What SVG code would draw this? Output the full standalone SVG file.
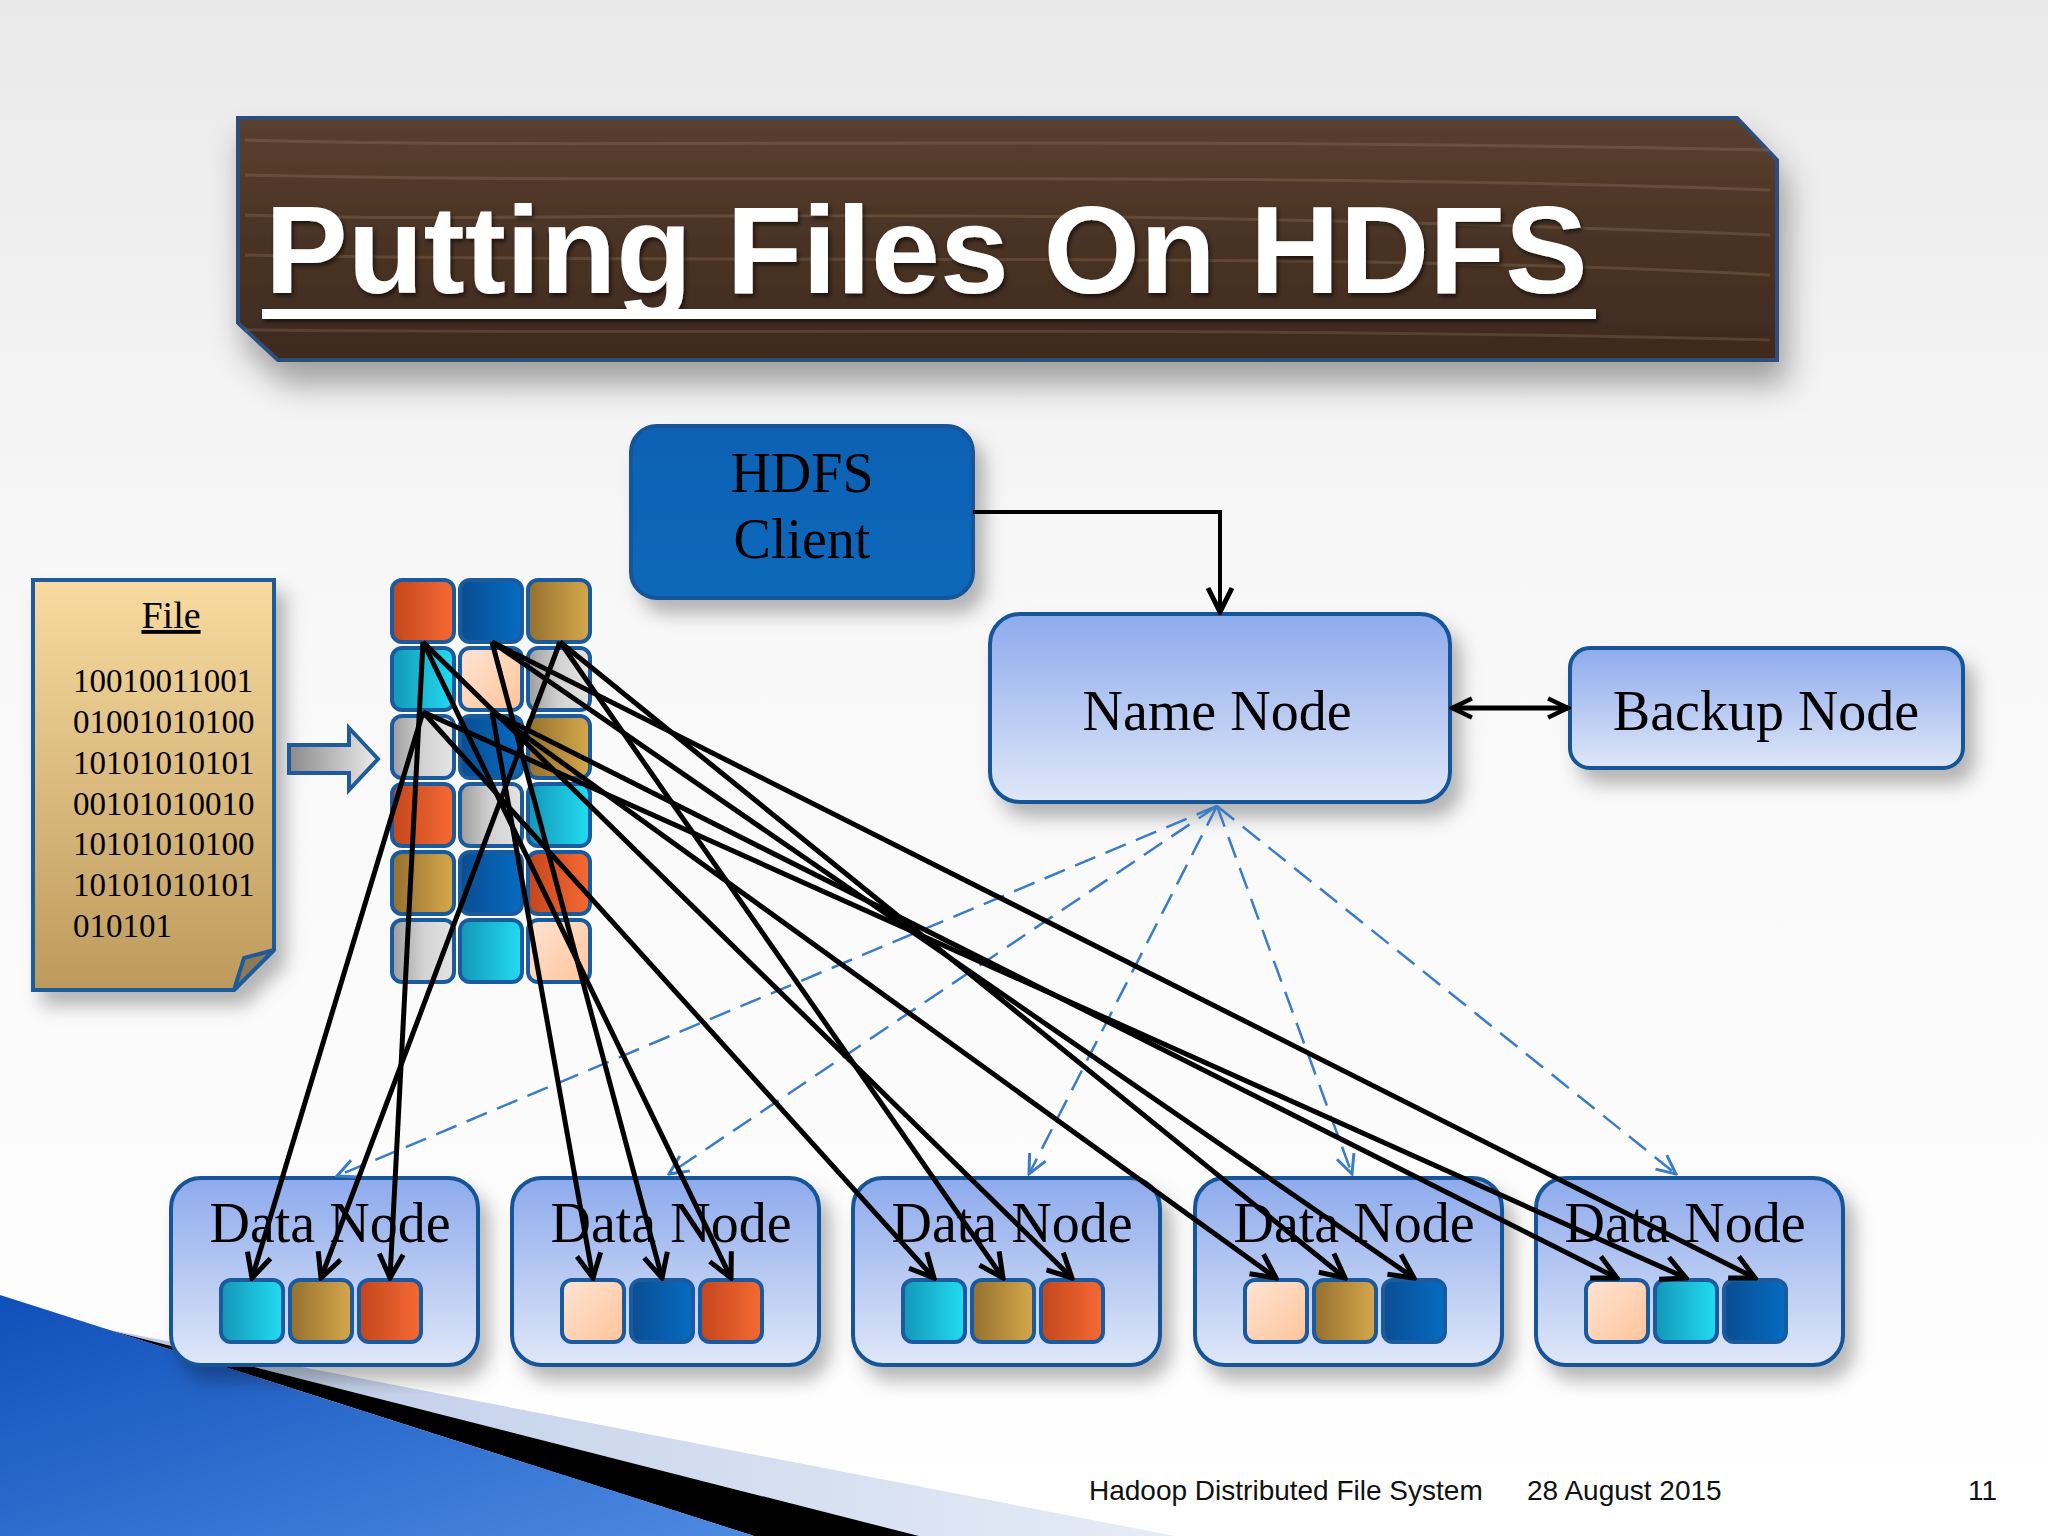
<svg xmlns="http://www.w3.org/2000/svg" width="2048" height="1536" viewBox="0 0 2048 1536">
<defs>
  <linearGradient id="bg" x1="0" y1="0" x2="0" y2="1">
    <stop offset="0" stop-color="#e9e9ea"/>
    <stop offset="0.35" stop-color="#f7f7f7"/>
    <stop offset="1" stop-color="#ffffff"/>
  </linearGradient>
  <linearGradient id="wood" x1="0" y1="0" x2="0" y2="1">
    <stop offset="0" stop-color="#5a4030"/>
    <stop offset="0.5" stop-color="#4a3325"/>
    <stop offset="1" stop-color="#3e2a1e"/>
  </linearGradient>
  <linearGradient id="fileG" x1="0" y1="0" x2="0" y2="1">
    <stop offset="0" stop-color="#f8dba0"/>
    <stop offset="1" stop-color="#bd9a5c"/>
  </linearGradient>
  <linearGradient id="lightBox" x1="0" y1="0" x2="0" y2="1">
    <stop offset="0" stop-color="#8daaec"/>
    <stop offset="1" stop-color="#dfe7f8"/>
  </linearGradient>
  <linearGradient id="clientG" x1="0" y1="0" x2="0" y2="1">
    <stop offset="0" stop-color="#0e61b4"/>
    <stop offset="1" stop-color="#1168bb"/>
  </linearGradient>
  <linearGradient id="arrowG" x1="0" y1="0" x2="1" y2="0">
    <stop offset="0" stop-color="#8a8a8a"/>
    <stop offset="1" stop-color="#ececec"/>
  </linearGradient>
  <linearGradient id="cOrange" x1="0" y1="0" x2="1" y2="0">
    <stop offset="0" stop-color="#c4461c"/>
    <stop offset="1" stop-color="#f56a34"/>
  </linearGradient>
  <linearGradient id="cBlue" x1="0" y1="0" x2="1" y2="0">
    <stop offset="0" stop-color="#0a4d92"/>
    <stop offset="1" stop-color="#066cc2"/>
  </linearGradient>
  <linearGradient id="cGold" x1="0" y1="0" x2="1" y2="0">
    <stop offset="0" stop-color="#94702e"/>
    <stop offset="1" stop-color="#d6a84c"/>
  </linearGradient>
  <linearGradient id="cCyan" x1="0" y1="0" x2="1" y2="0">
    <stop offset="0" stop-color="#1496b8"/>
    <stop offset="1" stop-color="#22dcf2"/>
  </linearGradient>
  <linearGradient id="cPeach" x1="0" y1="0" x2="1" y2="1">
    <stop offset="0" stop-color="#fde4d4"/>
    <stop offset="1" stop-color="#ffc49a"/>
  </linearGradient>
  <linearGradient id="cGray" x1="0" y1="0" x2="1" y2="0">
    <stop offset="0" stop-color="#9c9c9c"/>
    <stop offset="0.5" stop-color="#d2d2d2"/>
    <stop offset="1" stop-color="#e4e4e4"/>
  </linearGradient>
  <linearGradient id="swoosh" x1="0" y1="0" x2="1" y2="1">
    <stop offset="0" stop-color="#0f4fb8"/>
    <stop offset="1" stop-color="#4c8ae2"/>
  </linearGradient>
  <linearGradient id="paleBand" x1="0" y1="0" x2="1" y2="0">
    <stop offset="0" stop-color="#b9c9e6"/>
    <stop offset="1" stop-color="#e6ecf7"/>
  </linearGradient>
  <filter id="sh" x="-20%" y="-20%" width="150%" height="160%">
    <feDropShadow dx="10" dy="14" stdDeviation="9" flood-color="#000" flood-opacity="0.28"/>
  </filter>
  <filter id="shBig" x="-10%" y="-20%" width="125%" height="170%">
    <feDropShadow dx="8" dy="22" stdDeviation="16" flood-color="#000" flood-opacity="0.35"/>
  </filter>
  <filter id="txtSh" x="-5%" y="-10%" width="110%" height="130%">
    <feDropShadow dx="2" dy="3" stdDeviation="2" flood-color="#000" flood-opacity="0.6"/>
  </filter>
  <marker id="ah" viewBox="0 0 30 30" refX="27" refY="15" markerWidth="30" markerHeight="30" markerUnits="userSpaceOnUse" orient="auto">
    <path d="M3,3 L27,15 L3,27" fill="none" stroke="#000" stroke-width="5"/>
  </marker>
  <marker id="ahs" viewBox="0 0 30 30" refX="26" refY="15" markerWidth="26" markerHeight="26" markerUnits="userSpaceOnUse" orient="auto-start-reverse">
    <path d="M3,4 L26,15 L3,26" fill="none" stroke="#000" stroke-width="5"/>
  </marker>
  <marker id="ahb" viewBox="0 0 24 24" refX="22" refY="12" markerWidth="24" markerHeight="24" markerUnits="userSpaceOnUse" orient="auto">
    <path d="M3,3 L22,12 L3,21" fill="none" stroke="#3a7cc6" stroke-width="3"/>
  </marker>
  <style>
    .blk { stroke:#1a5a9e; stroke-width:4; }
    .serif { font-family:"Liberation Serif","Times New Roman",serif; fill:#000; }
    .box { stroke:#135597; stroke-width:4; }
    .arr { fill:none; stroke:#000; stroke-width:5; marker-end:url(#ah); }
    .dash { fill:none; stroke:#3a7cc6; stroke-width:2.5; stroke-dasharray:22 11; marker-end:url(#ahb); }
  </style>
</defs>

<rect width="2048" height="1536" fill="url(#bg)"/>

<!-- bottom-left decoration -->
<g id="decoration">
  <polygon points="100,1328 1175,1536 919,1536" fill="url(#paleBand)"/>
  <polygon points="112,1331 919,1536 754,1536" fill="#000"/>
  <polygon points="0,1295 754,1536 0,1536" fill="url(#swoosh)"/>
</g>

<!-- title -->
<g id="title">
  <polygon points="238,118 1737,118 1777,160 1777,360 278,360 238,323" fill="url(#wood)" stroke="#2d4e78" stroke-width="4" filter="url(#shBig)"/>
  <g opacity="0.18" stroke="#c8a888" stroke-width="3" fill="none">
    <path d="M245,140 C600,150 1000,135 1770,150"/>
    <path d="M245,175 C700,185 1200,170 1770,190"/>
    <path d="M245,215 C500,225 900,200 1770,235"/>
    <path d="M245,255 C800,265 1300,250 1770,275"/>
    <path d="M245,330 C700,335 1200,325 1770,340"/>
  </g>
  <g filter="url(#txtSh)">
    <text x="265" y="293" font-family="Liberation Sans, Arial, sans-serif" font-weight="bold" font-size="124" fill="#ffffff">Putting Files On HDFS</text>
    <rect x="262" y="309" width="1334" height="10" fill="#ffffff"/>
  </g>
</g>

<!-- File document -->
<g id="file">
  <polygon points="33,580 274,580 274,950 234,990 33,990" fill="url(#fileG)" stroke="#1f5b9b" stroke-width="4" filter="url(#sh)"/>
  <polygon points="274,950 234,990 244,958" fill="#8d7a5a" stroke="#1f5b9b" stroke-width="4" stroke-linejoin="round"/>
  <text class="serif" x="171" y="628" font-size="38" text-anchor="middle" text-decoration="underline">File</text>
  <g class="serif" font-size="33">
    <text x="73" y="692">10010011001</text>
    <text x="73" y="733">01001010100</text>
    <text x="73" y="774">10101010101</text>
    <text x="73" y="815">00101010010</text>
    <text x="73" y="855">10101010100</text>
    <text x="73" y="896">10101010101</text>
    <text x="73" y="937">010101</text>
  </g>
</g>

<!-- block arrow -->
<g id="splitArrow">
  <polygon points="289,745 349,745 349,728 378,759 349,790 349,773 289,773" fill="url(#arrowG)" stroke="#1f5b9b" stroke-width="4" stroke-linejoin="miter"/>
</g>

<!-- block grid -->
<g id="blocks">
  <rect class="blk" x="392" y="580" width="62" height="62" rx="10" fill="url(#cOrange)"/>
  <rect class="blk" x="460" y="580" width="62" height="62" rx="10" fill="url(#cBlue)"/>
  <rect class="blk" x="528" y="580" width="62" height="62" rx="10" fill="url(#cGold)"/>
  <rect class="blk" x="392" y="648" width="62" height="62" rx="10" fill="url(#cCyan)"/>
  <rect class="blk" x="460" y="648" width="62" height="62" rx="10" fill="url(#cPeach)"/>
  <rect class="blk" x="528" y="648" width="62" height="62" rx="10" fill="url(#cGray)"/>
  <rect class="blk" x="392" y="716" width="62" height="62" rx="10" fill="url(#cGray)"/>
  <rect class="blk" x="460" y="716" width="62" height="62" rx="10" fill="url(#cBlue)"/>
  <rect class="blk" x="528" y="716" width="62" height="62" rx="10" fill="url(#cGold)"/>
  <rect class="blk" x="392" y="784" width="62" height="62" rx="10" fill="url(#cOrange)"/>
  <rect class="blk" x="460" y="784" width="62" height="62" rx="10" fill="url(#cGray)"/>
  <rect class="blk" x="528" y="784" width="62" height="62" rx="10" fill="url(#cCyan)"/>
  <rect class="blk" x="392" y="852" width="62" height="62" rx="10" fill="url(#cGold)"/>
  <rect class="blk" x="460" y="852" width="62" height="62" rx="10" fill="url(#cBlue)"/>
  <rect class="blk" x="528" y="852" width="62" height="62" rx="10" fill="url(#cOrange)"/>
  <rect class="blk" x="392" y="920" width="62" height="62" rx="10" fill="url(#cGray)"/>
  <rect class="blk" x="460" y="920" width="62" height="62" rx="10" fill="url(#cCyan)"/>
  <rect class="blk" x="528" y="920" width="62" height="62" rx="10" fill="url(#cPeach)"/>
</g>

<!-- HDFS Client -->
<g id="hdfsClient">
  <rect class="box" x="631" y="426" width="342" height="172" rx="26" fill="url(#clientG)" filter="url(#sh)"/>
  <text class="serif" x="802" y="492" font-size="56" text-anchor="middle">HDFS</text>
  <text class="serif" x="802" y="558" font-size="56" text-anchor="middle">Client</text>
</g>

<!-- Name Node -->
<g id="nameNode">
  <rect class="box" x="990" y="614" width="460" height="188" rx="30" fill="url(#lightBox)" filter="url(#sh)"/>
  <text class="serif" x="1217" y="730" font-size="56" text-anchor="middle">Name Node</text>
</g>

<!-- Backup Node -->
<g id="backupNode">
  <rect class="box" x="1570" y="648" width="393" height="120" rx="20" fill="url(#lightBox)" filter="url(#sh)"/>
  <text class="serif" x="1766" y="730" font-size="56" text-anchor="middle">Backup Node</text>
</g>

<!-- Data Nodes -->
<g id="dataNode1">
  <rect class="box" x="171" y="1178" width="307" height="187" rx="30" fill="url(#lightBox)" filter="url(#sh)"/>
  <text class="serif" x="330" y="1242" font-size="56" text-anchor="middle">Data Node</text>
  <rect class="blk" x="221" y="1280" width="62" height="62" rx="10" fill="url(#cCyan)"/>
  <rect class="blk" x="290" y="1280" width="62" height="62" rx="10" fill="url(#cGold)"/>
  <rect class="blk" x="359" y="1280" width="62" height="62" rx="10" fill="url(#cOrange)"/>
</g>
<g id="dataNode2">
  <rect class="box" x="512" y="1178" width="307" height="187" rx="30" fill="url(#lightBox)" filter="url(#sh)"/>
  <text class="serif" x="671" y="1242" font-size="56" text-anchor="middle">Data Node</text>
  <rect class="blk" x="562" y="1280" width="62" height="62" rx="10" fill="url(#cPeach)"/>
  <rect class="blk" x="631" y="1280" width="62" height="62" rx="10" fill="url(#cBlue)"/>
  <rect class="blk" x="700" y="1280" width="62" height="62" rx="10" fill="url(#cOrange)"/>
</g>
<g id="dataNode3">
  <rect class="box" x="853" y="1178" width="307" height="187" rx="30" fill="url(#lightBox)" filter="url(#sh)"/>
  <text class="serif" x="1012" y="1242" font-size="56" text-anchor="middle">Data Node</text>
  <rect class="blk" x="903" y="1280" width="62" height="62" rx="10" fill="url(#cCyan)"/>
  <rect class="blk" x="972" y="1280" width="62" height="62" rx="10" fill="url(#cGold)"/>
  <rect class="blk" x="1041" y="1280" width="62" height="62" rx="10" fill="url(#cOrange)"/>
</g>
<g id="dataNode4">
  <rect class="box" x="1195" y="1178" width="307" height="187" rx="30" fill="url(#lightBox)" filter="url(#sh)"/>
  <text class="serif" x="1354" y="1242" font-size="56" text-anchor="middle">Data Node</text>
  <rect class="blk" x="1245" y="1280" width="62" height="62" rx="10" fill="url(#cPeach)"/>
  <rect class="blk" x="1314" y="1280" width="62" height="62" rx="10" fill="url(#cGold)"/>
  <rect class="blk" x="1383" y="1280" width="62" height="62" rx="10" fill="url(#cBlue)"/>
</g>
<g id="dataNode5">
  <rect class="box" x="1536" y="1178" width="307" height="187" rx="30" fill="url(#lightBox)" filter="url(#sh)"/>
  <text class="serif" x="1685" y="1242" font-size="56" text-anchor="middle">Data Node</text>
  <rect class="blk" x="1586" y="1280" width="62" height="62" rx="10" fill="url(#cPeach)"/>
  <rect class="blk" x="1655" y="1280" width="62" height="62" rx="10" fill="url(#cCyan)"/>
  <rect class="blk" x="1724" y="1280" width="62" height="62" rx="10" fill="url(#cBlue)"/>
</g>

<!-- connectors -->
<g id="connectors">
  <path d="M973,512 H1220 V612" fill="none" stroke="#000" stroke-width="4" marker-end="url(#ah)"/>
  <line x1="1452" y1="708" x2="1568" y2="708" stroke="#000" stroke-width="5" marker-start="url(#ahs)" marker-end="url(#ahs)"/>

  <line class="dash" x1="1217" y1="806" x2="337" y2="1176"/>
  <line class="dash" x1="1217" y1="806" x2="669" y2="1174"/>
  <line class="dash" x1="1217" y1="806" x2="1029" y2="1174"/>
  <line class="dash" x1="1217" y1="806" x2="1352" y2="1174"/>
  <line class="dash" x1="1217" y1="806" x2="1676" y2="1174"/>

  <line class="arr" x1="423" y1="712" x2="252" y2="1278"/>
  <line class="arr" x1="560" y1="642" x2="321" y2="1278"/>
  <line class="arr" x1="423" y1="642" x2="390" y2="1278"/>

  <line class="arr" x1="492" y1="712" x2="593" y2="1278"/>
  <line class="arr" x1="492" y1="642" x2="662" y2="1278"/>
  <line class="arr" x1="423" y1="642" x2="731" y2="1278"/>

  <line class="arr" x1="423" y1="712" x2="934" y2="1278"/>
  <line class="arr" x1="560" y1="642" x2="1003" y2="1278"/>
  <line class="arr" x1="423" y1="642" x2="1072" y2="1278"/>

  <line class="arr" x1="492" y1="712" x2="1276" y2="1278"/>
  <line class="arr" x1="560" y1="642" x2="1345" y2="1278"/>
  <line class="arr" x1="492" y1="642" x2="1414" y2="1278"/>

  <line class="arr" x1="492" y1="712" x2="1617" y2="1278"/>
  <line class="arr" x1="423" y1="712" x2="1686" y2="1278"/>
  <line class="arr" x1="492" y1="642" x2="1755" y2="1278"/>
</g>

<!-- footer -->
<g id="footer" font-family="Liberation Sans, Arial, sans-serif" font-size="28" fill="#111">
  <text x="1089" y="1500">Hadoop Distributed File System</text>
  <text x="1527" y="1500">28 August 2015</text>
  <text x="1997" y="1500" text-anchor="end">11</text>
</g>
</svg>
